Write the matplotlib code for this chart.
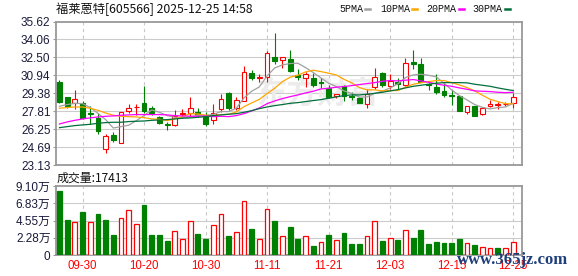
import matplotlib.pyplot as plt
import numpy as np

plt.rcParams['font.family'] = ['Liberation Sans', 'Noto Sans CJK SC']

# trading days shown (MM-DD)
trade_dates = ['09-25', '09-26', '09-29', '09-30', '10-09', '10-10', '10-13', '10-14', '10-15', '10-16',
               '10-17', '10-20', '10-21', '10-22', '10-23', '10-24', '10-27', '10-28', '10-29', '10-30',
               '10-31', '11-03', '11-04', '11-05', '11-06', '11-07', '11-10', '11-11', '11-12', '11-13',
               '11-14', '11-17', '11-18', '11-19', '11-20', '11-21', '11-24', '11-25', '11-26', '11-27',
               '11-28', '12-01', '12-02', '12-03', '12-04', '12-05', '12-08', '12-09', '12-10', '12-11',
               '12-12', '12-15', '12-16', '12-17', '12-18', '12-19', '12-22', '12-23', '12-24', '12-25']

open_ = [30.33, 29.03, 28.50, 28.53, 27.66, 27.20, 24.55, 25.72, 25.08, 27.86,
         28.18, 28.50, 28.07, 27.28, 26.73, 26.62, 27.57, 27.66, 27.78, 27.40,
         27.02, 28.01, 29.37, 28.13, 28.74, 31.12, 30.74, 30.80, 32.51, 32.31,
         32.37, 30.97, 30.74, 30.68, 30.39, 29.87, 29.14, 30.01, 29.14, 28.94,
         28.45, 29.96, 31.12, 30.04, 30.39, 30.10, 32.08, 31.90, 30.16, 29.96,
         29.55, 29.20, 29.17, 27.75, 28.24, 27.55, 28.30, 28.36, 28.42, 28.56]
high = [30.51, 29.06, 29.64, 28.74, 28.30, 27.63, 25.80, 26.01, 27.78, 28.47,
        28.42, 29.98, 28.24, 27.40, 26.91, 27.92, 28.01, 29.03, 28.07, 27.72,
        28.42, 29.35, 29.46, 29.03, 31.76, 31.41, 31.06, 33.09, 34.63, 32.57,
        33.12, 31.50, 31.26, 31.12, 30.68, 30.10, 29.29, 30.10, 29.46, 29.08,
        29.72, 31.55, 31.20, 31.03, 30.68, 32.48, 33.12, 32.42, 30.25, 31.03,
        30.25, 29.69, 29.23, 28.30, 28.30, 28.18, 28.76, 28.65, 28.59, 29.37]
low = [28.56, 28.13, 28.01, 27.14, 26.73, 25.83, 24.18, 25.13, 25.08, 27.63,
       27.49, 27.63, 27.49, 26.73, 26.21, 26.56, 27.34, 27.31, 27.28, 26.53,
       26.67, 27.78, 27.92, 27.92, 28.71, 30.54, 30.39, 30.39, 31.93, 31.61,
       31.26, 30.51, 29.96, 29.96, 29.81, 28.94, 28.94, 28.71, 28.79, 28.50,
       28.07, 29.75, 29.96, 29.75, 29.67, 30.01, 31.50, 30.33, 29.67, 29.32,
       29.06, 28.36, 27.84, 27.57, 27.40, 27.49, 28.18, 28.01, 28.27, 28.13]
close = [28.62, 28.30, 28.91, 27.20, 27.60, 26.09, 25.63, 25.28, 27.75, 28.13,
         28.21, 27.81, 27.69, 26.82, 26.64, 27.43, 27.63, 28.07, 27.46, 26.73,
         27.69, 28.91, 28.13, 28.82, 31.26, 30.68, 30.77, 32.92, 32.22, 32.57,
         31.35, 30.83, 31.03, 30.10, 30.30, 29.03, 29.29, 29.17, 29.08, 28.50,
         29.29, 30.83, 30.10, 30.48, 30.22, 32.05, 31.96, 30.39, 30.07, 29.52,
         29.23, 29.14, 27.84, 28.24, 27.43, 28.13, 28.47, 28.42, 28.45, 29.08]

# volume in 万
volume = [8.44, 4.62, 4.31, 5.67, 4.31, 5.41, 4.62, 2.64, 4.84, 5.89,
          4.09, 6.59, 2.64, 2.64, 1.85, 3.12, 2.07, 4.44, 2.77, 2.07,
          3.91, 5.36, 2.51, 2.99, 7.08, 3.43, 2.07, 6.02, 4.48, 2.46,
          3.69, 2.11, 2.46, 1.19, 1.71, 2.64, 1.98, 2.90, 1.45, 1.45,
          2.46, 4.44, 1.85, 2.20, 1.98, 3.25, 2.24, 3.30, 1.45, 1.71,
          1.58, 1.58, 2.11, 1.58, 1.32, 1.06, 0.92, 0.92, 0.92, 1.7413]

ma5 = [28.24, 28.39, 28.50, 28.47, 28.13, 27.63, 27.08, 26.35, 26.47, 26.59,
       26.99, 27.43, 27.92, 27.72, 27.43, 27.28, 27.25, 27.31, 27.46, 27.46,
       27.52, 27.78, 27.78, 28.07, 28.97, 29.55, 29.93, 30.89, 31.58, 31.84,
       31.96, 31.99, 31.61, 31.18, 30.71, 30.25, 29.96, 29.58, 29.37, 29.03,
       29.06, 29.37, 29.55, 29.84, 30.19, 30.74, 30.97, 31.03, 30.94, 30.80,
       30.25, 29.67, 29.17, 28.79, 28.39, 28.15, 28.01, 28.13, 28.18, 28.50]
ma10 = [28.07, 28.13, 28.18, 28.18, 28.07, 27.89, 27.66, 27.46, 27.37, 27.34,
        27.31, 27.25, 27.14, 27.11, 26.99, 27.14, 27.34, 27.60, 27.57, 27.46,
        27.40, 27.52, 27.54, 27.75, 28.21, 28.53, 28.85, 29.35, 29.81, 30.39,
        30.77, 30.94, 31.23, 31.38, 31.26, 31.12, 30.97, 30.59, 30.28, 29.87,
        29.67, 29.67, 29.58, 29.61, 29.61, 29.90, 30.16, 30.28, 30.39, 30.48,
        30.48, 30.30, 30.10, 29.87, 29.58, 29.20, 28.85, 28.65, 28.47, 28.45]
ma20 = [26.70, 26.88, 27.02, 27.14, 27.23, 27.31, 27.37, 27.40, 27.46, 27.49,
        27.52, 27.52, 27.52, 27.52, 27.49, 27.43, 27.40, 27.37, 27.37, 27.40,
        27.34, 27.37, 27.34, 27.43, 27.60, 27.84, 28.10, 28.47, 28.71, 28.91,
        29.08, 29.23, 29.40, 29.55, 29.75, 29.81, 29.90, 29.96, 30.04, 30.13,
        30.22, 30.30, 30.42, 30.48, 30.45, 30.51, 30.57, 30.45, 30.33, 30.19,
        30.07, 29.98, 29.84, 29.72, 29.58, 29.55, 29.52, 29.46, 29.43, 29.46]
ma30 = [26.38, 26.47, 26.56, 26.62, 26.67, 26.76, 26.82, 26.85, 26.85, 26.91,
        26.94, 26.96, 27.02, 27.05, 27.08, 27.14, 27.20, 27.23, 27.28, 27.34,
        27.43, 27.49, 27.55, 27.60, 27.72, 27.86, 28.04, 28.18, 28.30, 28.39,
        28.50, 28.56, 28.65, 28.74, 28.82, 28.94, 29.06, 29.17, 29.23, 29.23,
        29.29, 29.37, 29.46, 29.58, 29.69, 29.84, 29.98, 30.07, 30.16, 30.25,
        30.30, 30.30, 30.30, 30.28, 30.16, 30.07, 29.98, 29.84, 29.72, 29.61]

price_ticks = [23.13, 24.69, 26.25, 27.81, 29.38, 30.94, 32.50, 34.06, 35.62]
vol_ticks = [0, 2.28, 4.55, 6.83, 9.10]
vol_tick_labels = ['0', '2.28万', '4.55万', '6.83万', '9.10万']
date_labels = ['09-30', '10-20', '10-30', '11-11', '11-21', '12-03', '12-15', '12-25']

RED = '#FF0000'
GREEN = '#008000'
LABEL = '#1a1a3a'
W, H = 578, 276

fig = plt.figure(figsize=(W / 100, H / 100), dpi=100)
ax = fig.add_axes([56 / W, 1 - 165 / H, 466 / W, 143.5 / H])
axv = fig.add_axes([56 / W, 1 - 255 / H, 466 / W, 69 / H])

x = np.arange(len(close))
o = np.array(open_)
c = np.array(close)
up = c >= o
date_pos = [trade_dates.index(d) for d in date_labels]

for a in (ax, axv):
    a.set_xlim(-0.45, 60.15)
    for s in a.spines.values():
        s.set_color('#999999')
        s.set_linewidth(1.3)
    for p in date_pos:
        a.axvline(p, color='#C8C8C8', lw=0.8, ls=(0, (3, 3)), zorder=0)
    a.tick_params(axis='y', length=2.5, width=0.8, color='#999999', pad=1.5)
    a.set_xticks([])

# price panel
ax.set_ylim(price_ticks[0], price_ticks[-1])
for t in price_ticks[1:-1]:
    ax.axhline(t, color='#CCCCCC', lw=0.8, zorder=0)
ax.set_yticks(price_ticks)
ax.set_yticklabels(['%.2f' % t for t in price_ticks], fontsize=8.5, color=LABEL)

# faint site logo behind the candles
ax.text(0.56, 0.5, '东方财富', transform=ax.transAxes, fontsize=22, color='#ECECEC',
        fontweight='bold', ha='center', va='center', zorder=0.5, family='Noto Sans CJK SC')

wick_col = [RED if u else GREEN for u in up]
ax.vlines(x, low, high, colors=wick_col, lw=0.8, zorder=2)
body_h = np.abs(c - o)
body_b = np.minimum(c, o)
ax.bar(x[up], body_h[up], bottom=body_b[up], width=0.62, facecolor='white',
       edgecolor=RED, lw=0.8, zorder=3)
ax.bar(x[~up], body_h[~up], bottom=body_b[~up], width=0.62, facecolor=GREEN,
       edgecolor=GREEN, lw=0.8, zorder=3)

ax.plot(x, ma5, color='#A0A0A0', lw=0.9, zorder=4)
ax.plot(x, ma10, color='#FFA500', lw=0.9, zorder=4)
ax.plot(x, ma20, color='#FF00FF', lw=0.9, zorder=4)
ax.plot(x, ma30, color='#006F3C', lw=0.9, zorder=4)

# volume panel, colour by change against previous close
vol_up = np.r_[up[0], c[1:] >= c[:-1]]
v = np.array(volume)
axv.set_ylim(0, vol_ticks[-1])
for t in vol_ticks[1:-1]:
    axv.axhline(t, color='#CCCCCC', lw=0.8, zorder=0)
axv.set_yticks(vol_ticks)
axv.set_yticklabels(vol_tick_labels, fontsize=8.5, color=LABEL)
axv.bar(x[vol_up], v[vol_up], width=0.62, facecolor='white', edgecolor=RED, lw=0.9, zorder=3)
axv.bar(x[~vol_up], v[~vol_up], width=0.62, facecolor=GREEN, edgecolor=GREEN, lw=0.9, zorder=3)

for p, lab in zip(date_pos, date_labels):
    axv.text(p, -0.16, lab, transform=axv.get_xaxis_transform(), color=RED,
             fontsize=8.3, ha='center', va='center')

# texts
def px(xp, yp):
    return xp / W, 1 - yp / H

fig.text(*px(56, 9), '福莱蒽特[605566] 2025-12-25 14:58', fontsize=8.8,
         family='Noto Sans CJK SC', va='center', ha='left', color='#111111')
fig.text(*px(57, 178), '成交量:17413', fontsize=8.6,
         family='Noto Sans CJK SC', va='center', ha='left', color='#111111')

legend = [('5PMA', '#A0A0A0', 339, 365), ('10PMA', '#FFA500', 380, 412),
          ('20PMA', '#FF00FF', 426, 459), ('30PMA', '#006F3C', 472, 505)]
for name, col, tx, lx in legend:
    fig.text(*px(tx, 9), name, fontsize=7.2, family='Liberation Mono',
             va='center', ha='left', color='#111111')
    fig.add_artist(plt.Line2D([lx / W, (lx + 5) / W], [1 - 9 / H, 1 - 9 / H],
                              color=col, lw=1.8, transform=fig.transFigure))

# site watermark lying over the bottom-right date labels
fig.text(*px(513, 260), 'www.365jz.com', fontsize=12, family='Liberation Serif',
         fontweight='bold', color='#1F3F7A', ha='center', va='center')

fig.savefig('out.png', dpi=100)
